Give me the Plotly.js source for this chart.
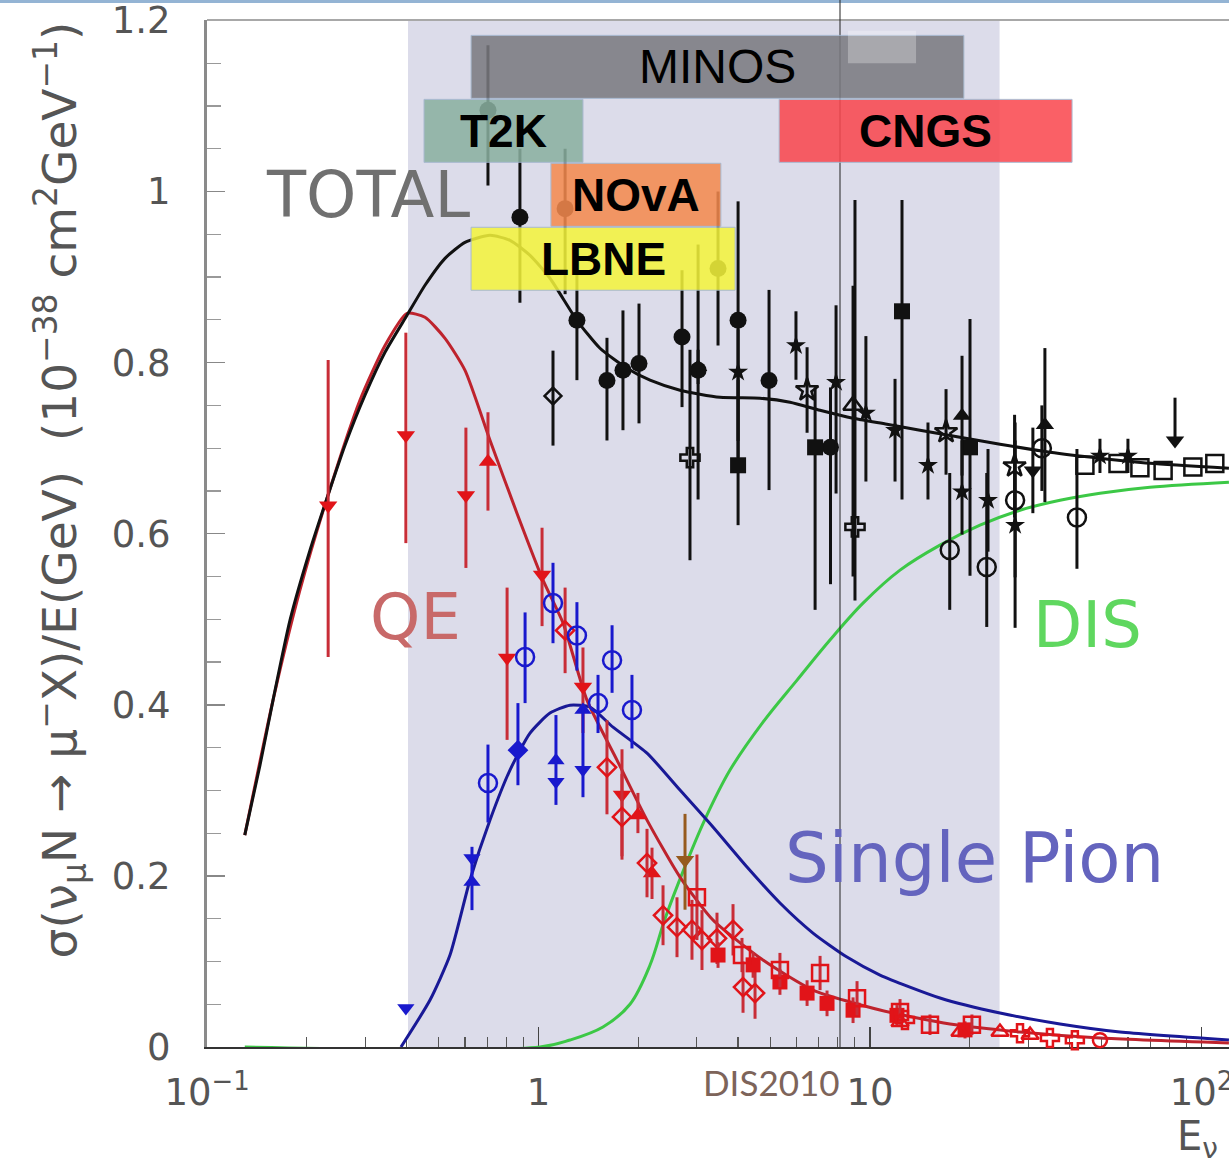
<!DOCTYPE html>
<html>
<head>
<meta charset="utf-8">
<script src="https://cdn.plot.ly/plotly-3.0.1.min.js"></script>
<style>
html,body{margin:0;padding:0;background:#fff;overflow:hidden;}
#chart{width:1229px;height:1159px;}
</style>
</head>
<body>
<div id="chart"></div>
<script>
// ---------- theory curves (E in GeV, sigma/E in 1e-38 cm^2/GeV) ----------
const totalE = [0.130,0.1445,0.1582,0.1780,0.2045,0.2317,0.2608,0.2996,0.3443,0.4012,0.4546,0.5224,0.6003,0.714,0.8203,0.9427,1.083,1.306,1.533,1.849,2.170,2.672,3.528,4.659,5.738,7.067,8.887,11.25,14.15,18.68,24.67,34.9,49.41,69.9,121];
const totalS = [0.2477,0.3295,0.4055,0.4989,0.5807,0.6450,0.7034,0.7619,0.8121,0.8553,0.8904,0.9219,0.9406,0.9488,0.9430,0.9254,0.8986,0.8495,0.8168,0.7934,0.7794,0.7677,0.7595,0.7584,0.7537,0.7443,0.7350,0.7280,0.7210,0.7128,0.7046,0.6953,0.6883,0.6824,0.6766];
const qeE = [0.130,0.1582,0.1907,0.2317,0.2893,0.3443,0.4012,0.4546,0.5224,0.6003,0.714,0.861,1.032,1.186,1.400,1.725,2.125,2.672,3.360,4.756,6.73,10.72,17.43,28.35,49.41,121];
const qeS = [0.2477,0.4055,0.5340,0.6450,0.7560,0.8201,0.8576,0.8530,0.8284,0.7910,0.7093,0.6240,0.5457,0.4955,0.4055,0.3354,0.2652,0.1986,0.1484,0.1016,0.0666,0.0432,0.0268,0.0175,0.0105,0.0047];
const pionE = [0.3847,0.4707,0.5408,0.6213,0.714,0.8203,0.9427,1.083,1.245,1.431,1.678,2.125,2.672,3.360,4.256,5.352,6.73,8.52,10.72,16.26,24.67,37.43,56.77,121];
const pionS = [0,0.0549,0.1075,0.1952,0.2653,0.3237,0.3669,0.3903,0.3996,0.3973,0.3739,0.3435,0.3003,0.2571,0.2103,0.1683,0.1332,0.1051,0.0841,0.0573,0.0397,0.0269,0.0175,0.0082];
const disE = [0.130,1.0105,1.245,1.565,1.888,2.170,2.408,2.760,3.171,3.782,4.756,6.025,7.573,9.526,12.32,16.26,21.47,28.35,37.43,49.41,69.9,121];
const disS = [0,0,0.0082,0.0234,0.0500,0.0958,0.1500,0.2100,0.2653,0.3237,0.3798,0.4289,0.4757,0.5188,0.5574,0.5866,0.6099,0.6274,0.6391,0.6473,0.6543,0.6602];

// ---------- QE data (red) ----------
const qeDnE = [0.232,0.398,0.604,0.804,1.025,1.362,1.786];
const qeDnS = [0.633,0.715,0.645,0.455,0.552,0.421,0.295];
const qeDnHi = [0.170,0.120,0.079,0.082,0.055,0.046,0.053];
const qeDnLo = [0.177,0.126,0.085,0.096,0.060,0.054,0.072];
const qeUpE = [0.704,1.995,2.20];
const qeUpS = [0.684,0.271,0.203];
const qeUpHi = [0.058,0.026,0.030];
const qeUpLo = [0.057,0.021,0.030];
const qeDiaE = [1.203,1.609,1.786,2.125,2.375,2.617,2.904,3.113,3.455,3.862,4.14,4.50];
const qeDiaS = [0.487,0.327,0.269,0.215,0.154,0.140,0.137,0.125,0.127,0.137,0.070,0.063];
const qeDiaErr = [0.05,0.055,0.05,0.04,0.035,0.035,0.035,0.035,0.03,0.03,0.03,0.03];
const qeSqE = [3.48,4.44,5.35,6.46,7.42,8.89,12.06,19.35];
const qeSqS = [0.1075,0.096,0.076,0.063,0.051,0.043,0.037,0.020];
const qeSqErr = [0.015,0.015,0.015,0.015,0.015,0.015,0.012,0.010];
const qeOSqE = [3.006,4.11,5.35,7.07,9.14,12.32,15.17,20.3];
const qeOSqS = [0.175,0.1075,0.090,0.0865,0.057,0.041,0.026,0.026];
const qeOSqErr = [0.05,0.02,0.02,0.02,0.02,0.015,0.012,0.012];
const qeOTriE = [12.32,18.68,24.67,30.4];
const qeOTriS = [0.029,0.0175,0.0175,0.014];
const qeCrossE = [12.75,28.35,34.9,41.5];
const qeCrossS = [0.0315,0.016,0.0105,0.008];
const qeOCircE = [49.4];
const qeOCircS = [0.008];
const qeOliveE = [2.767];
const qeOliveS = [0.2185];
const qeOliveHi = [0.054];
const qeOliveLo = [0.058];

// ---------- single pion data (blue) ----------
const spOCircE = [0.704,0.911,1.106,1.306,1.512,1.667,1.914];
const spOCircS = [0.3085,0.456,0.519,0.481,0.402,0.452,0.394];
const spOCircHi = [0.045,0.052,0.047,0.039,0.033,0.041,0.041];
const spOCircLo = [0.046,0.054,0.047,0.041,0.035,0.038,0.045];
const spDiaE = [0.867];
const spDiaS = [0.347];
const spDiaHi = [0.055];
const spDiaLo = [0.041];
const spUpE = [0.63,1.129,1.362];
const spUpS = [0.193,0.335,0.394];
const spDnE = [0.398,0.63,1.129,1.362];
const spDnS = [0.0456,0.221,0.310,0.324];
const spDnHi = [0,0.013,0.078,0.073];
const spDnLo = [0,0.061,0.027,0.032];

// ---------- total data (black) ----------
const totCircE = [0.704,0.879,1.203,1.306,1.609,1.798,2.01,2.71,3.03,3.48,4.0,4.96,7.6];
const totCircS = [1.095,0.970,0.980,0.8495,0.779,0.791,0.799,0.830,0.791,0.910,0.8495,0.779,0.701];
const totCircHi = [0.076,0.08,0.07,0.082,0.05,0.07,0.07,0.078,0.147,0.09,0.139,0.106,0.07];
const totCircLo = [0.088,0.10,0.10,0.070,0.07,0.07,0.07,0.082,0.151,0.09,0.141,0.128,0.16];
const totSqE = [4.0,6.83,12.49,20.03];
const totSqS = [0.680,0.701,0.860,0.701];
const totSqHi = [0.10,0.07,0.13,0.15];
const totSqLo = [0.07,0.19,0.22,0.15];
const totCrossE = [2.864,9.01];
const totCrossS = [0.689,0.608];
const totCrossHi = [0.126,0.382];
const totCrossLo = [0.12,0.086];
const totStarE = [4.0,5.98,7.90,9.72,11.9,14.96,18.95,22.7,27.4,49.4,60];
const totStarS = [0.789,0.820,0.777,0.741,0.721,0.680,0.649,0.639,0.610,0.691,0.691];
const totStarHi = [0.05,0.04,0.09,0.09,0.06,0.05,0.06,0.06,0.12,0.02,0.02];
const totStarLo = [0.10,0.04,0.13,0.08,0.06,0.04,0.05,0.06,0.12,0.02,0.02];
const totOStarE = [6.46,16.96,27.3];
const totOStarS = [0.768,0.719,0.679];
const totOStarErr = [0.05,0.05,0.06];
const totOTriE = [8.89];
const totOTriS = [0.750];
const totOTriHi = [0.14];
const totOTriLo = [0.20];
const totTriE = [3.03,18.95,33.7];
const totTriS = [0.795,0.738,0.727];
const totTriErr = [0.02,0.07,0.09];
const totDnE = [31.0,83.2];
const totDnS = [0.674,0.709];
const totDnHi = [0.05,0.05];
const totDnLo = [0.05,0];
const totOCircE = [17.4,22.5,27.4,33.0,42.1];
const totOCircS = [0.581,0.561,0.639,0.700,0.619];
const totOCircHi = [0.09,0.11,0.07,0.05,0.08];
const totOCircLo = [0.07,0.07,0.09,0.05,0.06];
const totOSqE = [44.5,56,65.2,76.6,94.2,109.7];
const totOSqS = [0.680,0.682,0.677,0.674,0.678,0.682];
const totODiaE = [1.106];
const totODiaS = [0.761];
const totODiaHi = [0.053];
const totODiaLo = [0.058];

// ---------- experiment bands ----------
const boxNames = ['MINOS','T2K','CNGS','NOvA','LBNE'];
const boxE0 = [0.626,0.4515,5.32,1.09,0.626];
const boxE1 = [19.2,1.362,40.7,3.55,3.92];
const boxS0 = [1.1089,1.0341,1.0341,0.9593,0.8846];
const boxS1 = [1.1825,1.1077,1.1077,1.033,0.9582];
const boxColors = ['rgb(122,122,128)','rgb(138,176,160)','rgb(250,70,78)','rgb(245,138,78)','rgb(245,245,60)'];
const boxBold = [false,true,true,true,true];

// ---------- other annotations ----------
const shadeE = [0.404,24.6];
const vlineE = 8.12;
const curveLabels = ['TOTAL','QE','DIS','Single Pion'];
const curveLabelE = [0.306,0.427,45.2,20.7];
const curveLabelS = [0.9955,0.5025,0.493,0.2208];
const curveLabelSizes = [64,64,64,69];
const curveLabelColors = ['#707070','rgb(200,105,105)','rgb(95,215,95)','rgb(100,100,190)'];
const xTickVals = [0.1,1,10,100];
const xTickText = ['10<sup>\u22121</sup>','1','10','10<sup>2</sup>'];
const yTickVals = [0,0.2,0.4,0.6,0.8,1,1.2];
const yTickText = ['0','0.2','0.4','0.6','0.8','1','1.2'];

// ---------- build ----------
const RED = 'rgb(225,20,25)', REDBAR = 'rgb(200,45,55)';
const BLUE = 'rgb(25,25,205)', BLACK = '#111';

function curve(x, y, color, sm) {
  return {x: x, y: y, type: 'scatter', mode: 'lines', hoverinfo: 'skip',
          line: {color: color, width: 3, shape: 'spline', smoothing: sm || 0.6}};
}
function pts(x, y, hi, lo, symbol, color, size, barColor) {
  const t = {x: x, y: y, type: 'scatter', mode: 'markers', cliponaxis: false,
    marker: {symbol: symbol, color: color, size: size,
             line: {color: color, width: symbol.indexOf('open') >= 0 ? 2.5 : 0}}};
  if (hi) {
    t.error_y = {type: 'data', symmetric: false, array: hi, arrayminus: lo || hi,
                 width: 0, thickness: 3, color: barColor || color};
  }
  return t;
}

const traces = [
  curve(disE, disS, 'rgb(60,200,70)', 1.0),
  curve(pionE, pionS, 'rgb(25,25,150)'),
  curve(qeE, qeS, 'rgb(190,35,45)'),
  curve(totalE, totalS, BLACK),
  // QE
  pts(qeDnE, qeDnS, qeDnHi, qeDnLo, 'triangle-down', RED, 16, REDBAR),
  pts(qeUpE, qeUpS, qeUpHi, qeUpLo, 'triangle-up', RED, 16, REDBAR),
  pts(qeDiaE, qeDiaS, qeDiaErr, qeDiaErr, 'diamond-open', RED, 14, REDBAR),
  pts(qeSqE, qeSqS, qeSqErr, qeSqErr, 'square', RED, 15, REDBAR),
  pts(qeOSqE, qeOSqS, qeOSqErr, qeOSqErr, 'square-open', RED, 16, REDBAR),
  pts(qeOTriE, qeOTriS, null, null, 'triangle-up-open', RED, 15),
  pts(qeCrossE, qeCrossS, null, null, 'cross-open', RED, 15),
  pts(qeOCircE, qeOCircS, null, null, 'circle-open', RED, 14),
  pts(qeOliveE, qeOliveS, qeOliveHi, qeOliveLo, 'triangle-down', 'rgb(150,90,30)', 16),
  // single pion
  pts(spOCircE, spOCircS, spOCircHi, spOCircLo, 'circle-open', BLUE, 18),
  pts(spDiaE, spDiaS, spDiaHi, spDiaLo, 'diamond', BLUE, 16),
  pts(spUpE, spUpS, null, null, 'triangle-up', BLUE, 15),
  pts(spDnE, spDnS, spDnHi, spDnLo, 'triangle-down', BLUE, 15),
  // total
  pts(totCircE, totCircS, totCircHi, totCircLo, 'circle', BLACK, 17),
  pts(totSqE, totSqS, totSqHi, totSqLo, 'square', BLACK, 16),
  pts(totCrossE, totCrossS, totCrossHi, totCrossLo, 'cross-open', BLACK, 16),
  pts(totStarE, totStarS, totStarHi, totStarLo, 'star', BLACK, 15),
  pts(totOStarE, totOStarS, totOStarErr, totOStarErr, 'star-open', BLACK, 17),
  pts(totOTriE, totOTriS, totOTriHi, totOTriLo, 'triangle-up-open', BLACK, 17),
  pts(totTriE, totTriS, totTriErr, totTriErr, 'triangle-up', BLACK, 16),
  pts(totDnE, totDnS, totDnHi, totDnLo, 'triangle-down', BLACK, 16),
  pts(totOCircE, totOCircS, totOCircHi, totOCircLo, 'circle-open', BLACK, 18),
  pts(totOSqE, totOSqS, null, null, 'square-open', BLACK, 17),
  pts(totODiaE, totODiaS, totODiaHi, totODiaLo, 'diamond-open', BLACK, 13)
];

const shapes = [
  {type: 'rect', xref: 'x', yref: 'paper', x0: shadeE[0], x1: shadeE[1], y0: 0, y1: 1,
   fillcolor: 'rgb(220,220,234)', line: {width: 0}, layer: 'below'},
  {type: 'rect', xref: 'paper', yref: 'paper', x0: -0.21, x1: 1.01, y0: 1.0165, y1: 1.03,
   fillcolor: 'rgb(148,180,212)', line: {width: 0}, layer: 'above'},
  {type: 'line', xref: 'paper', yref: 'paper', x0: 0, x1: 1, y0: 1, y1: 1,
   line: {color: '#a8a8a8', width: 2}, layer: 'above'},
  {type: 'line', xref: 'x', yref: 'paper', x0: vlineE, x1: vlineE, y0: 0, y1: 1.02,
   line: {color: '#222', width: 1}, layer: 'above'}
];
const annotations = [];
for (let i = 0; i < boxNames.length; i++) {
  shapes.push({type: 'rect', xref: 'x', yref: 'y', x0: boxE0[i], x1: boxE1[i], y0: boxS0[i], y1: boxS1[i],
    fillcolor: boxColors[i], opacity: 0.86, line: {color: 'rgb(160,180,205)', width: 1}, layer: 'above'});
  annotations.push({xref: 'x', yref: 'y', xanchor: 'center', yanchor: 'middle',
    x: (Math.log10(boxE0[i]) + Math.log10(boxE1[i])) / 2, y: (boxS0[i] + boxS1[i]) / 2,
    text: boxBold[i] ? '<b>' + boxNames[i] + '</b>' : boxNames[i], showarrow: false,
    font: {family: 'Liberation Sans, Arial, sans-serif', size: boxBold[i] ? 46 : 48, color: '#000'}});
}
// light patch inside MINOS band
shapes.push({type: 'rect', xref: 'x', yref: 'y', x0: 8.58, x1: 13.77, y0: 1.150, y1: 1.188,
  fillcolor: 'rgba(255,255,255,0.28)', line: {width: 0}, layer: 'above'});

for (let i = 0; i < curveLabels.length; i++) {
  annotations.push({xref: 'x', yref: 'y', xanchor: 'center', yanchor: 'middle',
    x: Math.log10(curveLabelE[i]), y: curveLabelS[i],
    text: curveLabels[i], showarrow: false,
    font: {family: 'DejaVu Sans, sans-serif', size: curveLabelSizes[i], color: curveLabelColors[i]}});
}
annotations.push({xref: 'x', yref: 'paper', xanchor: 'center', yanchor: 'middle',
  x: Math.log10(5.06), y: -0.034, text: 'DIS2010',
  showarrow: false, font: {family: 'Lato, sans-serif', size: 35, color: 'rgb(125,100,90)'}});
annotations.push({xref: 'paper', yref: 'paper', xanchor: 'center', yanchor: 'middle',
  x: -0.1438, y: 0.542, textangle: -90, showarrow: false,
  text: '\u03c3(\u03bd<sub>\u03bc</sub>N \u2192 \u03bc<sup>\u2212</sup>X)/E(GeV)\u00a0\u00a0(10<sup>\u221238</sup> cm<sup>2</sup>GeV<sup>\u22121</sup>)',
  font: {family: 'DejaVu Sans, sans-serif', size: 47, color: '#555'}});
annotations.push({xref: 'paper', yref: 'paper', xanchor: 'left', yanchor: 'middle',
  x: 0.947, y: -0.09, showarrow: false,
  text: 'E<sub>\u03bd</sub>', font: {family: 'DejaVu Sans, sans-serif', size: 40, color: '#555'}});

const minorX = [];
for (let d = 0.1; d < 200; d *= 10) { for (let k = 2; k <= 9; k++) minorX.push(+(d * k).toPrecision(3)); }

const layout = {
  width: 1229, height: 1159,
  margin: {l: 207, r: 0, t: 20, b: 112, pad: 0},
  paper_bgcolor: '#fff', plot_bgcolor: '#fff',
  showlegend: false,
  font: {family: 'DejaVu Sans, sans-serif', color: '#555'},
  xaxis: {type: 'log', range: [-1, 2.083], showgrid: false, zeroline: false,
    showline: true, linecolor: '#333', linewidth: 2, layer: 'below traces',
    tickmode: 'array', tickvals: xTickVals, ticktext: xTickText,
    ticks: 'inside', ticklen: 20, tickwidth: 1.5, tickcolor: '#444',
    ticklabelstandoff: 12, ticklabeloverflow: 'allow',
    tickfont: {size: 37, color: '#555'},
    minor: {tickmode: 'array', tickvals: minorX, ticks: 'inside', ticklen: 10, tickwidth: 1.2, tickcolor: '#555', showgrid: false}},
  yaxis: {range: [0, 1.2005], showgrid: false, zeroline: false,
    showline: true, linecolor: '#8a8a8a', linewidth: 3,
    tickmode: 'array', tickvals: yTickVals, ticktext: yTickText,
    ticks: 'inside', ticklen: 18, tickwidth: 1.5, tickcolor: '#888',
    ticklabelstandoff: 26, ticklabeloverflow: 'allow',
    tickfont: {size: 37, color: '#555'},
    minor: {dtick: 0.05, ticks: 'inside', ticklen: 14, tickwidth: 1.2, tickcolor: '#999', showgrid: false}},
  shapes: shapes,
  annotations: annotations
};

Plotly.newPlot('chart', traces, layout, {staticPlot: true, displayModeBar: false});
</script>
</body>
</html>
